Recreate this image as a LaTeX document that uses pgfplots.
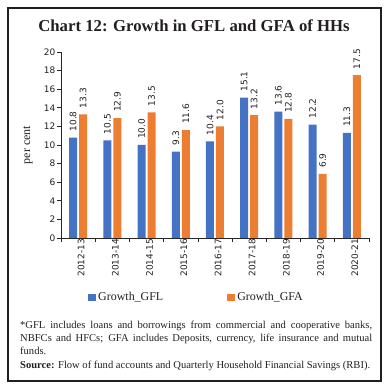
\documentclass[border=0pt]{standalone}
\usepackage{pgfplots}
\pgfplotsset{compat=1.18}
\usepackage{fontspec}
\setmainfont{Liberation Serif}
\newfontfamily\numfont{DejaVu Sans}
\definecolor{gflblue}{HTML}{4472C4}
\definecolor{gfaorange}{HTML}{ED7D31}
\definecolor{txt}{HTML}{231F20}
\begin{document}
\begin{tikzpicture}
\path[use as bounding box] (0bp,0bp) rectangle (389bp,389bp);
\draw[line width=1.2bp, txt] (8bp,8bp) rectangle (381bp,381bp);
\node[anchor=base, inner sep=0pt, font=\fontsize{16.8}{18}\selectfont\bfseries, text=txt] at (194bp,357.5bp) {Chart 12: Growth in GFL and GFA of HHs};
\begin{axis}[
  at={(61bp,151bp)}, anchor=south west,
  scale only axis, width=308bp, height=186bp,
  /pgf/number format/assume math mode=true,
  ybar=2bp, bar width=8bp,
  ymin=0, ymax=20, ytick={0,2,...,20},
  xmin=-0.5, xmax=8.5,
  axis x line*=bottom, axis y line*=left,
  axis line style={black!85, line width=0.6bp},
  tick align=outside,
  major tick length=4bp,
  tick style={black!85, line width=0.6bp},
  xtick={-0.5,0.5,...,8.5}, xticklabels={},
  extra x ticks={0,1,2,3,4,5,6,7,8},
  extra x tick labels={2012-13,2013-14,2014-15,2015-16,2016-17,2017-18,2018-19,2019-20,2020-21},
  extra x tick style={major tick length=0pt, tick label style={rotate=90, anchor=east, inner sep=1bp, yshift=-3bp, font=\numfont\fontsize{9}{10}\selectfont, text=txt}},
  yticklabel style={font=\numfont\fontsize{9}{10}\selectfont, text=txt, inner sep=1.5bp},
  ylabel={per cent},
  ylabel style={at={(-0.107,0.5)}, anchor=center, font=\fontsize{12}{14}\selectfont, text=txt},
  nodes near coords,
  nodes near coords style={rotate=90, anchor=west, inner xsep=6bp, font=\numfont\fontsize{9}{10}\selectfont, text=txt,
    /pgf/number format/.cd, fixed, fixed zerofill, precision=1, assume math mode=true},
  legend style={at={(0.44,-0.32)}, anchor=center, draw=none, fill=none, legend columns=2,
    font=\fontsize{12}{14}\selectfont, text=txt,
    /tikz/every even column/.append style={column sep=62bp}},
  legend image code/.code={\fill[#1] (0bp,-3.5bp) rectangle (8bp,4bp);},
]
\addplot[fill=gflblue, draw=none] coordinates {(0,10.8) (1,10.5) (2,10.0) (3,9.3) (4,10.4) (5,15.1) (6,13.6) (7,12.2) (8,11.3)};
\addplot[fill=gfaorange, draw=none] coordinates {(0,13.3) (1,12.9) (2,13.5) (3,11.6) (4,12.0) (5,13.2) (6,12.8) (7,6.9) (8,17.5)};
\legend{Growth\_GFL, Growth\_GFA}
\end{axis}
\node[anchor=north west, inner sep=0pt, text width=352bp, align=justify, font=\fontsize{10.6}{13.2}\selectfont, text=txt] at (20bp,68bp) {*GFL includes loans and borrowings from commercial and cooperative banks, NBFCs and HFCs; GFA includes Deposits, currency, life insurance and mutual funds.\\\textbf{Source:} Flow of fund accounts and Quarterly Household Financial Savings (RBI).};
\end{tikzpicture}
\end{document}
